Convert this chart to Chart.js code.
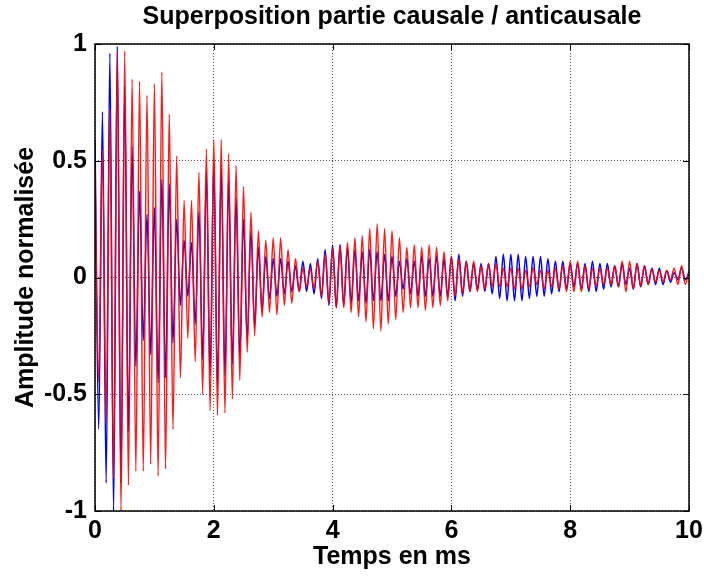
<!DOCTYPE html>
<html>
<head>
<meta charset="utf-8">
<script src="https://cdn.jsdelivr.net/npm/chart.js@4/dist/chart.umd.min.js"></script>
<style>
  html, body { margin: 0; padding: 0; background: #fff; }
  #wrap { width: 704px; height: 577px; }
</style>
</head>
<body>
<div id="wrap"><canvas id="chart" width="704" height="577"></canvas></div>
<script>
// half an oscillation period (ms) between a crest and the next trough
const halfPeriod = 0.0625;

// crest values of the causal part (blue), one per period
const bluePeaks = [
  0.59, 0.71, 0.96, 0.99, 0.82, 0.56, 0.37, 0.27, 0.30, 0.42,
  0.40, 0.25, 0.16, 0.15, 0.28, 0.45, 0.49, 0.47, 0.41, 0.34,
  0.25, 0.20, 0.13, 0.09, 0.08, 0.08, 0.07, 0.05, 0.07, 0.06,
  0.08, 0.12, 0.14, 0.14, 0.13, 0.12, 0.11, 0.12, 0.11, 0.10,
  0.09, 0.07, 0.08, 0.07, 0.09, 0.08, 0.09, 0.08, 0.09, 0.10,
  0.07, 0.06, 0.06, 0.06, 0.09, 0.10, 0.10, 0.10, 0.09, 0.09,
  0.09, 0.08, 0.07, 0.07, 0.06, 0.06, 0.06, 0.07, 0.06, 0.06,
  0.05, 0.06, 0.04, 0.06, 0.05, 0.04, 0.04, 0.03, 0.02, 0.04
];
const blueTroughs = [
  -0.65, -0.88, -1.00, -0.88, -0.66, -0.38, -0.27, -0.33, -0.45, -0.43,
  -0.28, -0.12, -0.08, -0.20, -0.35, -0.42, -0.46, -0.42, -0.37, -0.34,
  -0.27, -0.21, -0.14, -0.09, -0.08, -0.07, -0.06, -0.06, -0.06, -0.07,
  -0.09, -0.12, -0.13, -0.12, -0.11, -0.10, -0.11, -0.10, -0.10, -0.10,
  -0.08, -0.05, -0.07, -0.08, -0.08, -0.08, -0.08, -0.08, -0.10, -0.08,
  -0.06, -0.05, -0.06, -0.07, -0.09, -0.10, -0.10, -0.10, -0.09, -0.08,
  -0.08, -0.07, -0.06, -0.05, -0.04, -0.05, -0.06, -0.06, -0.05, -0.04,
  -0.04, -0.03, -0.05, -0.04, -0.03, -0.03, -0.03, -0.02, -0.01, -0.01
];
const blueEnd = 0.02;

// anticausal part (red)
const redPeaks = [
  0.46, 0.55, 0.72, 0.97, 0.97, 0.85, 0.84, 0.78, 0.83, 0.88,
  0.70, 0.52, 0.33, 0.33, 0.45, 0.55, 0.59, 0.59, 0.53, 0.48,
  0.39, 0.28, 0.20, 0.16, 0.17, 0.17, 0.12, 0.08, 0.04, 0.04,
  0.07, 0.10, 0.13, 0.14, 0.15, 0.17, 0.18, 0.21, 0.23, 0.21,
  0.20, 0.17, 0.13, 0.14, 0.13, 0.14, 0.13, 0.11, 0.09, 0.08,
  0.07, 0.07, 0.05, 0.06, 0.06, 0.04, 0.04, 0.04, 0.03, 0.04,
  0.03, 0.03, 0.04, 0.05, 0.07, 0.07, 0.05, 0.04, 0.04, 0.04,
  0.05, 0.07, 0.07, 0.06, 0.05, 0.04, 0.03, 0.03, 0.04, 0.05
];
const redTroughs = [
  -0.45, -0.62, -0.86, -1.00, -0.89, -0.83, -0.83, -0.80, -0.85, -0.82,
  -0.65, -0.43, -0.26, -0.36, -0.50, -0.57, -0.59, -0.58, -0.52, -0.44,
  -0.32, -0.25, -0.17, -0.15, -0.16, -0.12, -0.11, -0.06, -0.04, -0.05,
  -0.08, -0.11, -0.13, -0.13, -0.15, -0.17, -0.19, -0.22, -0.23, -0.20,
  -0.18, -0.15, -0.13, -0.13, -0.14, -0.13, -0.12, -0.10, -0.08, -0.07,
  -0.06, -0.06, -0.05, -0.04, -0.04, -0.04, -0.05, -0.05, -0.04, -0.03,
  -0.05, -0.04, -0.05, -0.06, -0.06, -0.06, -0.05, -0.04, -0.03, -0.03,
  -0.04, -0.06, -0.05, -0.04, -0.03, -0.02, -0.02, -0.01, -0.03, -0.03
];
const redEnd = 0.03;

const xTicks = [0, 2, 4, 6, 8, 10];
const yTicks = [-1, -0.5, 0, 0.5, 1];
const chartTitle = "Superposition partie causale / anticausale";

function buildSeries(peaks, troughs, endValue) {
  const pts = [];
  for (let k = 0; k < peaks.length; k++) {
    pts.push({ x: 2 * k * halfPeriod, y: peaks[k] });
    pts.push({ x: (2 * k + 1) * halfPeriod, y: troughs[k] });
  }
  pts.push({ x: 10, y: endValue });
  return pts;
}

const FONT = "'Liberation Sans', Arial, sans-serif";
const BIG = { family: FONT, size: 25, weight: "bold" };

// matlab style: title centred over the axes, box with inward ticks on all four sides
const boxPlugin = {
  id: "box",
  afterDatasetsDraw(chart) {
    const { ctx, chartArea: a, scales } = chart;
    ctx.save();
    ctx.strokeStyle = "#000";
    ctx.lineWidth = 1;
    const tl = 6;
    ctx.beginPath();
    xTicks.forEach(v => {
      const px = Math.round(scales.x.getPixelForValue(v)) + 0.5;
      ctx.moveTo(px, a.top); ctx.lineTo(px, a.top + tl);
      ctx.moveTo(px, a.bottom); ctx.lineTo(px, a.bottom - tl);
    });
    yTicks.forEach(v => {
      const py = Math.round(scales.y.getPixelForValue(v)) + 0.5;
      ctx.moveTo(a.left, py); ctx.lineTo(a.left + tl, py);
      ctx.moveTo(a.right, py); ctx.lineTo(a.right - tl, py);
    });
    ctx.stroke();
    ctx.lineWidth = 1.5;
    ctx.strokeRect(a.left, a.top, a.right - a.left, a.bottom - a.top);

    ctx.fillStyle = "#000";
    ctx.font = "bold 25px " + FONT;
    ctx.textAlign = "center";
    ctx.textBaseline = "middle";
    ctx.fillText(chartTitle, (a.left + a.right) / 2, 17);
    ctx.restore();
  }
};

new Chart(document.getElementById("chart"), {
  type: "scatter",
  data: {
    datasets: [
      {
        label: "partie causale",
        data: buildSeries(bluePeaks, blueTroughs, blueEnd),
        showLine: true,
        borderColor: "#0000ff",
        borderWidth: 1.5,
        pointRadius: 0,
        cubicInterpolationMode: "monotone",
        order: 2
      },
      {
        label: "partie anticausale",
        data: buildSeries(redPeaks, redTroughs, redEnd),
        showLine: true,
        borderColor: "rgba(255,0,0,0.9)",
        borderWidth: 1.5,
        pointRadius: 0,
        cubicInterpolationMode: "monotone",
        order: 1
      }
    ]
  },
  options: {
    responsive: false,
    animation: false,
    devicePixelRatio: 1,
    layout: { padding: { left: 0, right: 15, top: 44, bottom: 0 } },
    plugins: {
      legend: { display: false },
      tooltip: { enabled: false },
      title: { display: false }
    },
    scales: {
      x: {
        type: "linear",
        min: 0,
        max: 10,
        afterBuildTicks: s => { s.ticks = xTicks.map(v => ({ value: v })); },
        afterFit: s => { s.height = 66; s.paddingLeft = 0; s.paddingRight = 0; },
        ticks: {
          color: "#000",
          font: BIG,
          padding: 5,
          maxRotation: 0,
          callback: v => String(v)
        },
        grid: { color: "#555", lineWidth: 1, drawTicks: false },
        border: { display: false, dash: [1, 2] },
        title: {
          display: true,
          text: "Temps en ms",
          color: "#000",
          font: BIG,
          padding: { top: 0, bottom: 5 }
        }
      },
      y: {
        type: "linear",
        min: -1,
        max: 1,
        afterBuildTicks: s => { s.ticks = yTicks.map(v => ({ value: v })); },
        afterFit: s => { s.width = 95; s.paddingTop = 0; s.paddingBottom = 0; },
        ticks: {
          color: "#000",
          font: BIG,
          padding: 8,
          callback: v => String(v)
        },
        grid: { color: "#555", lineWidth: 1, drawTicks: false },
        border: { display: false, dash: [1, 2] },
        title: {
          display: true,
          text: "Amplitude normalisée",
          color: "#000",
          font: BIG,
          padding: { top: 11, bottom: 0 }
        }
      }
    }
  },
  plugins: [boxPlugin]
});
</script>
</body>
</html>
